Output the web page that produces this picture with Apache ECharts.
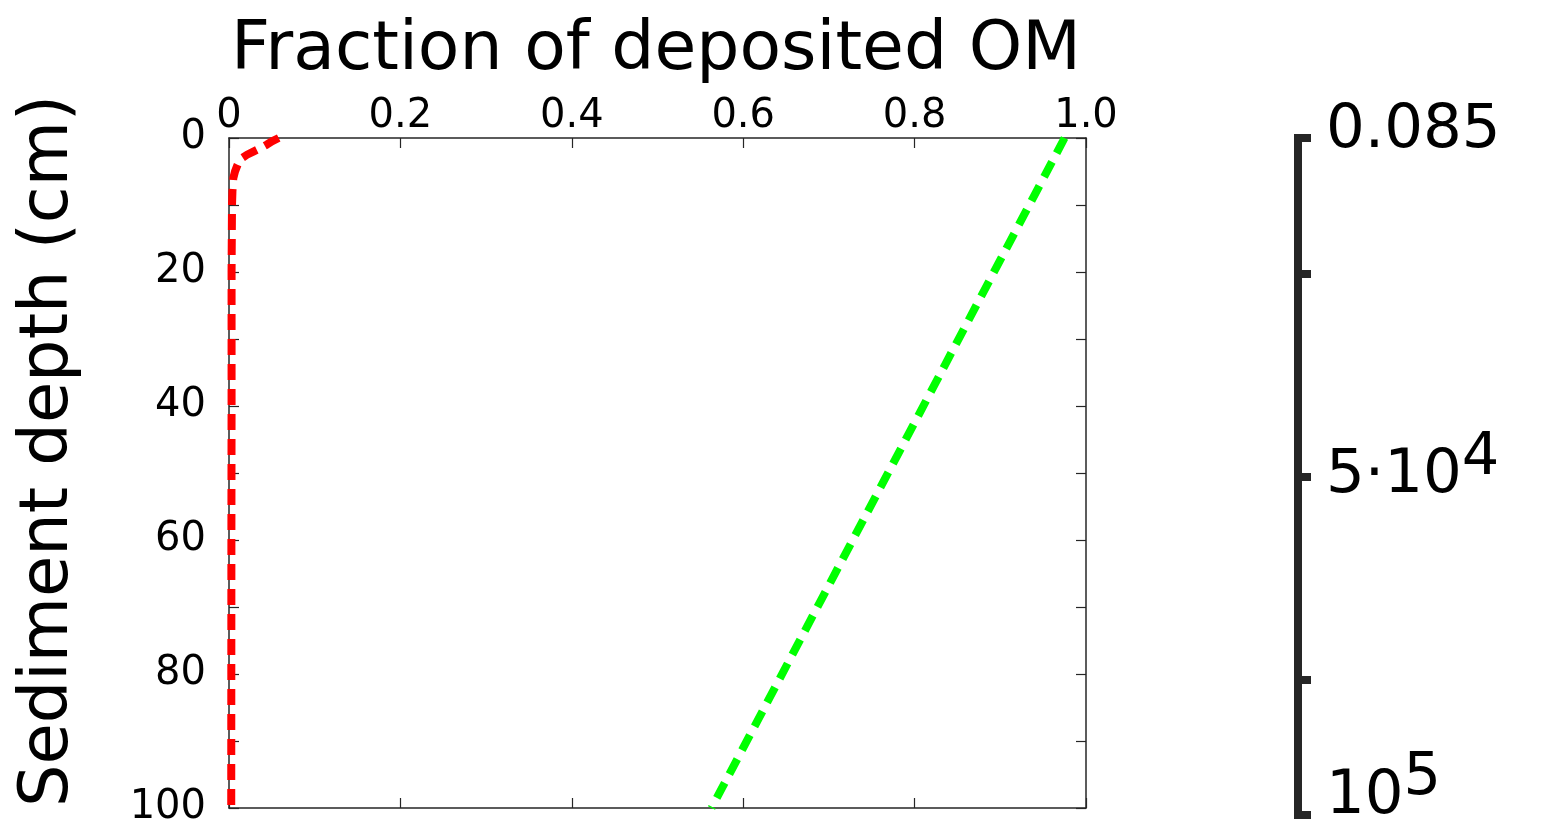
<!DOCTYPE html>
<html>
<head>
<meta charset="utf-8">
<script src="https://cdn.jsdelivr.net/npm/echarts@6/dist/echarts.min.js"></script>
<style>
  html, body { margin: 0; padding: 0; background: #fff; }
  #chart { width: 1563px; height: 828px; }
</style>
</head>
<body>
<div id="chart"></div>
<script>
// ---- data ----
const titleText = 'Fraction of deposited OM';
const yName = 'Sediment depth (cm)';
const redDepth = [0, 0.5, 1, 1.5, 2, 2.5, 3, 3.5, 4, 5, 6, 8, 10, 20, 40, 60, 80, 100];
const redFrac  = [0.058, 0.050, 0.044, 0.037, 0.029, 0.021, 0.015, 0.012, 0.010, 0.007, 0.005, 0.004, 0.0035, 0.003, 0.003, 0.0028, 0.0027, 0.0026];
const greenDepth = [0, 100];
const greenFrac  = [0.975, 0.563];
const xTicks = [0, 0.2, 0.4, 0.6, 0.8, 1.0];
const yLabelStep = 20;
const cbMin = 0, cbMax = 100000;
const cbTicks = [0, 20000, 50000, 80000, 100000];
const cbLabels = [0, 50000, 100000];
const cbLabelText = { 0: '{t|0.085}', 50000: '{m|5·10}{s1|4}', 100000: '{b|10}{s2|5}' };

const FONT = 'DejaVu Sans';
const AX = '#262626';

const chart = echarts.init(document.getElementById('chart'), null, { renderer: 'canvas' });

const redData = redDepth.map((d, i) => [redFrac[i], d]);
const greenData = greenDepth.map((d, i) => [greenFrac[i], d]);

const baseAxisLine = { show: true, onZero: false, lineStyle: { color: AX, width: 1.5 } };
const baseTick = { show: true, inside: true, length: 10, lineStyle: { color: AX, width: 1.2 } };

const option = {
  backgroundColor: '#fff',
  animation: false,
  title: {
    text: titleText,
    left: 651,
    top: 12,
    textAlign: 'center',
    textStyle: { fontFamily: FONT, fontSize: 68, fontWeight: 'normal', color: '#000' }
  },
  grid: [
    { left: 229, top: 138, width: 857, height: 677, containLabel: false },
    { left: 1298, top: 138, width: 1, height: 677, containLabel: false }
  ],
  xAxis: [
    {
      gridIndex: 0, type: 'value', position: 'top', min: 0, max: 1, interval: 0.2,
      axisLine: baseAxisLine, axisTick: baseTick, splitLine: { show: false },
      axisLabel: {
        show: true, margin: 1, fontFamily: FONT, fontSize: 40, color: '#000',
        customValues: xTicks,
        formatter: v => (v === 0 ? '0' : v.toFixed(1))
      }
    },
    {
      gridIndex: 0, type: 'value', position: 'bottom', min: 0, max: 1, interval: 0.2,
      axisLine: baseAxisLine, axisTick: baseTick, splitLine: { show: false },
      axisLabel: { show: false }
    },
    { gridIndex: 1, type: 'value', show: false, min: 0, max: 1 }
  ],
  yAxis: [
    {
      gridIndex: 0, type: 'value', position: 'left', inverse: true, min: 0, max: 100, interval: 10,
      axisLine: baseAxisLine, axisTick: baseTick, splitLine: { show: false },
      axisLabel: {
        show: true, margin: 23, fontFamily: FONT, fontSize: 40, color: '#000',
        formatter: v => (v % yLabelStep === 0 ? String(v) : '')
      },
      name: yName, nameLocation: 'middle', nameGap: 146, nameRotate: 90,
      nameTextStyle: { fontFamily: FONT, fontSize: 67, color: '#000', padding: [0, 0, 0, 44] }
    },
    {
      gridIndex: 0, type: 'value', position: 'right', inverse: true, min: 0, max: 100, interval: 10,
      axisLine: baseAxisLine, axisTick: baseTick, splitLine: { show: false },
      axisLabel: { show: false }
    },
    {
      gridIndex: 1, type: 'value', position: 'left', inverse: true, min: cbMin, max: cbMax,
      axisLine: { show: true, onZero: false, lineStyle: { color: AX, width: 8, cap: 'square' } },
      axisTick: { show: true, inside: true, length: 13, customValues: cbTicks, lineStyle: { color: AX, width: 8 } },
      splitLine: { show: false },
      axisLabel: {
        show: true, inside: true, margin: 28, customValues: cbLabels, color: '#000',
        fontFamily: FONT, fontSize: 61,
        formatter: v => cbLabelText[v] || '',
        rich: {
          t: { fontFamily: FONT, fontSize: 61, color: '#000', padding: [0, 0, 14, 0] },
          m: { fontFamily: FONT, fontSize: 61, color: '#000' },
          s1: { fontFamily: FONT, fontSize: 59, color: '#000', padding: [0, 0, 36, 0] },
          b: { fontFamily: FONT, fontSize: 61, color: '#000', padding: [0, 0, 36, 0] },
          s2: { fontFamily: FONT, fontSize: 59, color: '#000', padding: [0, 0, 72, 0] }
        }
      }
    }
  ],
  series: [
    {
      type: 'line', xAxisIndex: 0, yAxisIndex: 0, data: redData, symbol: 'none',
      lineStyle: { color: '#ff0000', width: 8, type: [16, 9] }
    },
    {
      type: 'line', xAxisIndex: 0, yAxisIndex: 0, data: greenData, symbol: 'none',
      lineStyle: { color: '#00ff00', width: 8, type: [17, 10] }
    }
  ]
};
chart.setOption(option);
</script>
</body>
</html>
